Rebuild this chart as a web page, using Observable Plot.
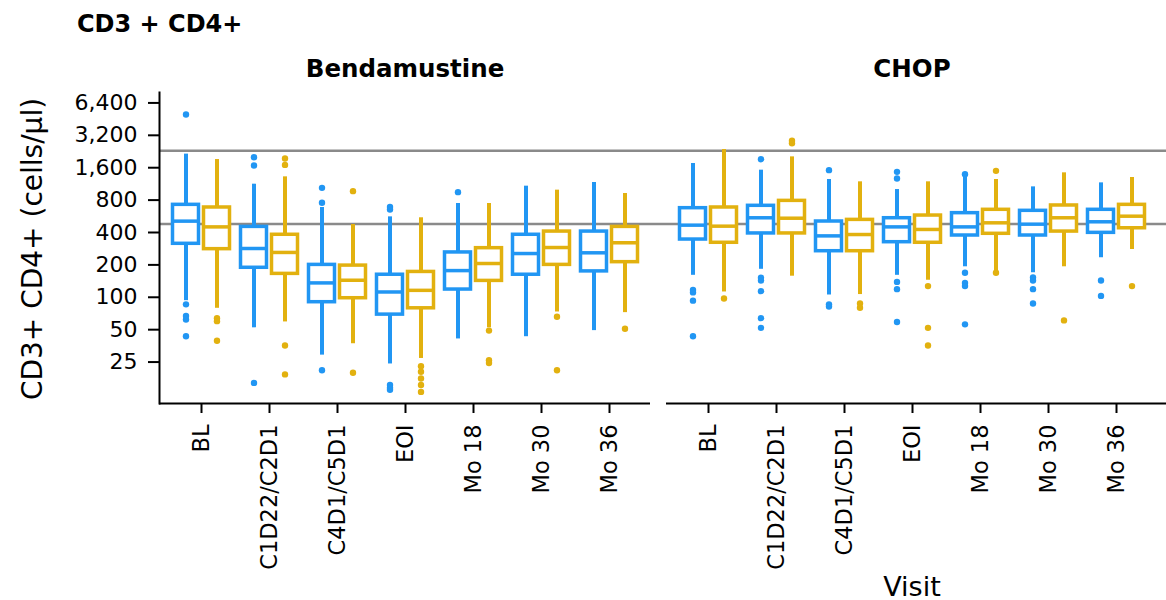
<!DOCTYPE html>
<html><head><meta charset="utf-8">
<script src="https://cdn.jsdelivr.net/npm/d3@7"></script>
<script src="https://cdn.jsdelivr.net/npm/@observablehq/plot@0.6"></script>
<style>
body{margin:0;background:#fff;width:1166px;height:600px;overflow:hidden;position:relative;font-family:"DejaVu Sans",sans-serif;color:#000}
#title{position:absolute;left:77px;top:12px;font:bold 24px/1 "DejaVu Sans";white-space:nowrap}
#chart{position:absolute;left:0;top:45px}
#ylabel{position:absolute;left:33px;top:249px;transform:translate(-50%,-50%) rotate(-90deg);font:28px/1 "DejaVu Sans";white-space:nowrap}
#xlabel{position:absolute;top:573px;left:912px;transform:translateX(-50%);font:27px/1 "DejaVu Sans";white-space:nowrap}
</style></head><body>
<div id="title">CD3 + CD4+</div>
<div id="chart"></div>
<div id="ylabel">CD3+ CD4+ (cells/µl)</div>
<div id="xlabel">Visit</div>
<script>
// ---- data ----
const visits = ["BL","C1D22/C2D1","C4D1/C5D1","EOI","Mo 18","Mo 30","Mo 36"];
const treatments = ["Bendamustine","CHOP"];
const seriesNames = ["Arm 1","Arm 2"];
const seriesColors = ["#2196f3","#e2b10f"];
const yTicks = [25,50,100,200,400,800,1600,3200,6400];
const refLines = [480, 2300];

// Bendamustine, Arm 1 (blue)
const bendaA_hi  = [2140,1125,683,559,744,1078,1166];
const bendaA_q3  = [723,451,200,162,261,381,408];
const bendaA_med = [510,284,136,112,177,255,259];
const bendaA_q1  = [314,188,90,69,118,162,174];
const bendaA_lo  = [93,52,29,24,41,43,49];
const bendaA_out = [[5000,86,67,62,43.5],[2000,1680,16],[1040,755,21],[690,655,15.3,14.4,13.8],[948],[],[]];
// Bendamustine, Arm 2 (gold)
const bendaB_hi  = [1906,1316,475,548,744,990,921];
const bendaB_q3  = [683,381,197,172,286,408,451];
const bendaB_med = [451,261,144,116,206,290,321];
const bendaB_q1  = [280,165,98,79,142,200,212];
const bendaB_lo  = [79,59,37,27,52,73,72];
const bendaB_out = [[64,60,39.4],[1950,1700,35.6,19.2],[969,19.9],[22.9,20.3,17.6,15.3,13.2],[49,26,24.5],[66,21],[51]];
// CHOP, Arm 1 (blue)
const chopA_hi  = [1750,1518,1243,1003,1298,1062,1157];
const chopA_q3  = [673,708,506,543,605,636,650];
const chopA_med = [468,548,372,451,451,478,503];
const chopA_q1  = [344,392,268,325,375,375,397];
const chopA_lo  = [160,182,105,160,192,169,233];
const chopA_out = [[117,111,93,43.5],[1920,152,143,114,64,52],[1518,86,82],[1464,1270,139,119,59],[1393,169,136,127,56],[153,143,119,87.5],[143,103]];
// CHOP, Arm 2 (gold)
const chopB_hi  = [2360,2018,1183,1183,1243,1434,1298];
const chopB_q3  = [683,787,524,575,650,713,723];
const chopB_med = [458,543,383,427,492,548,567];
const chopB_q1  = [321,392,268,321,389,408,438];
const chopB_lo  = [112,157,106,144,175,192,278];
const chopB_out = [[97.5],[2850,2700],[87.5,80],[127,52,35.6],[1496,169],[61],[127]];

// ---- build tables ----
const groups = [
  {t:"Bendamustine", s:0, hi:bendaA_hi, q3:bendaA_q3, med:bendaA_med, q1:bendaA_q1, lo:bendaA_lo, out:bendaA_out},
  {t:"Bendamustine", s:1, hi:bendaB_hi, q3:bendaB_q3, med:bendaB_med, q1:bendaB_q1, lo:bendaB_lo, out:bendaB_out},
  {t:"CHOP", s:0, hi:chopA_hi, q3:chopA_q3, med:chopA_med, q1:chopA_q1, lo:chopA_lo, out:chopA_out},
  {t:"CHOP", s:1, hi:chopB_hi, q3:chopB_q3, med:chopB_med, q1:chopB_q1, lo:chopB_lo, out:chopB_out},
];
const boxes = [[],[]], outliers = [[],[]];
for (const g of groups) {
  visits.forEach((v,i) => {
    boxes[g.s].push({treatment:g.t, visit:v, series:seriesNames[g.s], hi:g.hi[i], q3:g.q3[i], med:g.med[i], q1:g.q1[i], lo:g.lo[i]});
    for (const o of g.out[i]) outliers[g.s].push({treatment:g.t, visit:v, series:seriesNames[g.s], value:o});
  });
}
const yDomain = [10.3, 8000];
const offsets = [-15.5, 15.5];
const facetW = 491;

const marks = [];
// reference lines (continuous across both panels)
marks.push(Plot.ruleY(refLines.map(v=>({fx:"Bendamustine", v})), {fx:"fx", y:"v", stroke:"#8a8a8a", strokeWidth:2.5}));
marks.push(Plot.ruleY(refLines.map(v=>({fx:"CHOP", v})), {fx:"fx", y:"v", stroke:"#8a8a8a", strokeWidth:2.5, insetLeft:-16, insetRight:-9}));
// boxes
for (let s = 0; s < 2; s++) {
  const c = seriesColors[s], dx = offsets[s];
  marks.push(Plot.ruleX(boxes[s], {fx:"treatment", x:"visit", y1:"lo", y2:"q1", stroke:c, strokeWidth:4, dx}));
  marks.push(Plot.ruleX(boxes[s], {fx:"treatment", x:"visit", y1:"q3", y2:"hi", stroke:c, strokeWidth:4, dx}));
  marks.push(Plot.barY(boxes[s], {fx:"treatment", x:"visit", y1:"q1", y2:"q3", fill:"white", stroke:c, strokeWidth:3.5, dx}));
  marks.push(Plot.tickY(boxes[s], {fx:"treatment", x:"visit", y:"med", stroke:c, strokeWidth:3.5, dx}));
  marks.push(Plot.dot(outliers[s], {fx:"treatment", x:"visit", y:"value", fill:c, r:3.2, dx}));
}
// axis lines
marks.push(Plot.ruleY([{fx:"Bendamustine", v:yDomain[0]}], {fx:"fx", y:"v", stroke:"#000", strokeWidth:2}));
marks.push(Plot.ruleY([{fx:"CHOP", v:yDomain[0]}], {fx:"fx", y:"v", stroke:"#000", strokeWidth:2, insetRight:-9}));
marks.push(Plot.frame({anchor:"left", stroke:"#000", strokeWidth:2, fx:["Bendamustine"]}));
// y axis (ticks + labels, left panel only)
const yAxisData = yTicks.map(v => ({fx:"Bendamustine", v}));
marks.push(Plot.ruleY(yAxisData, {fx:"fx", y:"v", stroke:"#000", strokeWidth:2, insetLeft:-11, insetRight:facetW}));
marks.push(Plot.text(yAxisData, {fx:"fx", y:"v", text:d => d3.format(",")(d.v), frameAnchor:"left", textAnchor:"end", dx:-22, fontSize:22, fill:"#000"}));
// x and facet axes
marks.push(Plot.axisX({tickRotate:-90, tickSize:10, tickPadding:11, fontSize:22.5, strokeWidth:2, label:null}));
marks.push(Plot.axisFx({anchor:"top", tickSize:0, tickPadding:16, fontSize:24.5, fontWeight:"bold", label:null}));

const chart = Plot.plot({
  width:1166, height:555,
  marginLeft:159, marginRight:9, marginTop:47, marginBottom:197,
  style:{fontFamily:"DejaVu Sans", color:"#000", background:"white", overflow:"visible"},
  fx:{domain:treatments, paddingInner:0.0316, paddingOuter:0},
  x:{domain:visits, paddingInner:0.62, paddingOuter:0.40, align:0.5},
  y:{type:"log", domain:yDomain, axis:null},
  marks
});
document.getElementById("chart").appendChild(chart);
</script>
</body></html>
